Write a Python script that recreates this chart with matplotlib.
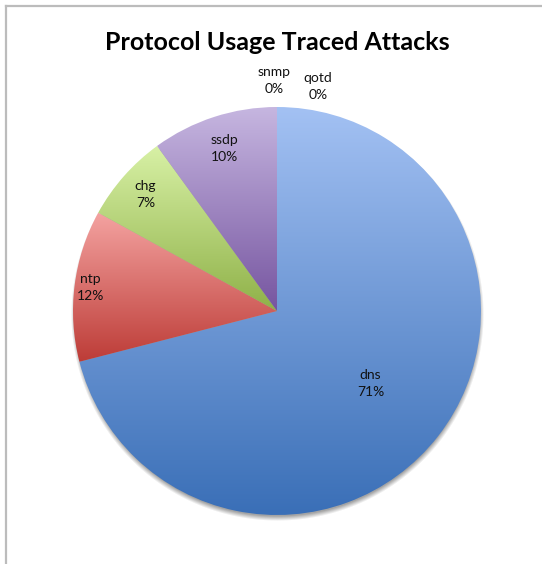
import numpy as np
import matplotlib.pyplot as plt
from matplotlib.patches import Wedge
from matplotlib.lines import Line2D

# protocol share of traced attacks (percent), clockwise from 12 o'clock
protocols = ['dns', 'ntp', 'chg', 'ssdp', 'snmp', 'qotd']
shares = [71, 12, 7, 10, 0, 0]

# gradient colours per slice: (top, bottom)
grad_top = ['#a3c1f3', '#f4a3a1', '#d8f1a6', '#c6b6e0', '#c6b6e0', '#a3c1f3']
grad_bot = ['#3a6fb7', '#bd3c37', '#8fb148', '#7655a0', '#7655a0', '#3a6fb7']

# how far out each label sits (fraction of radius) and sideways nudge (px)
label_r = [0.58, 0.92, 0.86, 0.84, 1.13, 1.10]
label_dx = [0, 0, 0, 0, -3, 41]

W, H = 542, 564
cx, cy, R = 277, H - 311, 204

plt.rcParams['font.family'] = ['Lato', 'DejaVu Sans']

fig = plt.figure(figsize=(W / 100, H / 100), dpi=100)
ax = fig.add_axes([0, 0, 1, 1])

wedges, _ = ax.pie(shares, startangle=90, counterclock=False, radius=R,
                   center=(cx, cy), frame=True,
                   wedgeprops=dict(facecolor='none', edgecolor='none'))
ax.set_xlim(0, W)
ax.set_ylim(0, H)
ax.set_aspect('equal')
ax.axis('off')

# soft drop shadow under the pie
yy, xx = np.mgrid[0:H, 0:W]
d = np.hypot(xx - cx, (H - yy) - (cy - 3))
alpha = np.clip((R + 2.5 - d) / 5.0, 0, 1) * 0.55
shadow = np.zeros((H, W, 4))
shadow[..., :3] = 0.35
shadow[..., 3] = alpha
ax.imshow(shadow, extent=(0, W, 0, H), zorder=0, interpolation='bilinear')


def hex_rgb(c):
    c = c.lstrip('#')
    return np.array([int(c[i:i + 2], 16) / 255 for i in (0, 2, 4)])


# fill each slice with a vertical gradient clipped to the wedge
for w, top, bot in zip(wedges, grad_top, grad_bot):
    if w.theta2 - w.theta1 <= 0:
        continue
    bb = w.get_path().get_extents(w.get_patch_transform())
    x0, y0, x1, y1 = bb.x0, bb.y0, bb.x1, bb.y1
    t = np.linspace(0, 1, 256)[:, None]
    img = (1 - t) * hex_rgb(top) + t * hex_rgb(bot)
    img = np.repeat(img[:, None, :], 2, axis=1)
    clip = Wedge(w.center, w.r, w.theta1, w.theta2, transform=ax.transData,
                 facecolor='none', edgecolor='none')
    ax.add_patch(clip)
    im = ax.imshow(img, extent=(x0, x1, y0, y1), aspect='auto', zorder=1,
                   interpolation='bilinear')
    im.set_clip_path(clip)

# slice labels
for w, name, val, r, dx in zip(wedges, protocols, shares, label_r, label_dx):
    mid = np.deg2rad((w.theta1 + w.theta2) / 2)
    lx = cx + r * R * np.cos(mid) + dx
    ly = cy + r * R * np.sin(mid)
    ax.text(lx, ly, f'{name}\n{val}%', ha='center', va='center',
            fontsize=10, linespacing=1.5, color='#111111', zorder=3)

fig.suptitle('Protocol Usage Traced Attacks', x=0.512, y=0.925,
             fontsize=18, fontweight='bold', va='center')

# chart frame edges
fig.add_artist(Line2D([5.5 / W, 5.5 / W], [0, 1 - 5.5 / H], color='#bcbcbc',
                      lw=1.6, transform=fig.transFigure))
fig.add_artist(Line2D([5.5 / W, 1], [1 - 5.5 / H, 1 - 5.5 / H], color='#bcbcbc',
                      lw=1.6, transform=fig.transFigure))

fig.savefig('out.png', dpi=100, facecolor='white')
